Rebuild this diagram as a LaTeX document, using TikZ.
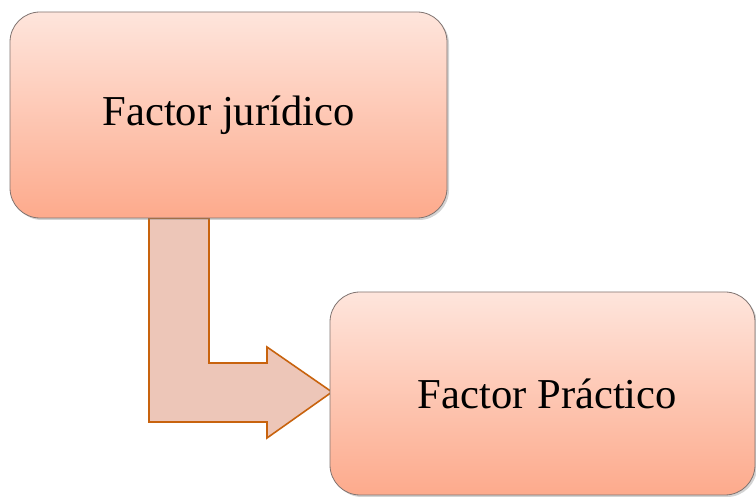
\documentclass[tikz,border=0pt]{standalone}
\usepackage{fontspec}
\setmainfont{Liberation Serif}
\usetikzlibrary{shadows,calc}
\definecolor{boxtop}{HTML}{FEE5DC}
\definecolor{boxbot}{HTML}{FDAA8C}
\definecolor{boxline}{HTML}{7F7370}
\definecolor{arrfill}{HTML}{EDC6B8}
\definecolor{arrline}{HTML}{C8630E}
\tikzset{
  factorbox/.style={rectangle, rounded corners=30pt, top color=boxtop, bottom color=boxbot,
    draw=boxline, line width=0.8pt, inner sep=0pt, font=\fontsize{42.6}{50}\selectfont,
    drop shadow={shadow xshift=2pt, shadow yshift=-2pt, opacity=0.35, fill=gray}},
  bentarrow/.style={fill=arrfill, draw=arrline, line width=1.6pt, line join=miter}
}
\begin{document}
\begin{tikzpicture}[x=1pt,y=1pt]
\useasboundingbox (0,0) rectangle (756,498);
% bent arrow (drawn first)
\draw[bentarrow] (149,280) -- (149,76) -- (267,76) -- (267,60) -- (332,106) -- (267,151) -- (267,135) -- (209,135) -- (209,280) -- cycle;
\node[factorbox, minimum width=437pt, minimum height=206pt] (b1) at (228.5,383) {Factor jurídico};
\node[factorbox, minimum width=425pt, minimum height=203pt] (b2) at (542.5,104.5) {\hspace*{10pt}Factor Práctico};
\end{tikzpicture}
\end{document}
